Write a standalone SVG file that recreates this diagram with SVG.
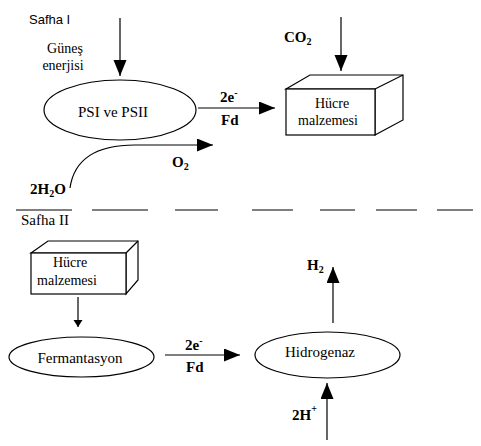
<svg xmlns="http://www.w3.org/2000/svg" width="481" height="446" viewBox="0 0 481 446">
<style>
.s{fill:none;stroke:#000;stroke-width:1.2}
.f{fill:#fff;stroke:#000;stroke-width:1.2}
.t{font-family:'Liberation Serif','Times New Roman','DejaVu Serif',serif;font-size:15px;fill:#000;text-anchor:middle}
.t14{font-family:'Liberation Serif','Times New Roman','DejaVu Serif',serif;font-size:14px;fill:#000;text-anchor:middle}
.b{font-family:'Liberation Serif','Times New Roman','DejaVu Serif',serif;font-size:15px;font-weight:bold;fill:#000}
.sa{font-family:'Liberation Sans',Arial,sans-serif;font-size:13px;fill:#000}
.sub{font-size:10px}
</style>
<defs>
<marker id="ah" markerUnits="userSpaceOnUse" markerWidth="18" markerHeight="14" refX="16" refY="6.5" orient="auto">
<path d="M0,0 L16,6.5 L0,13 z" fill="#000"/>
</marker>
<marker id="as" markerUnits="userSpaceOnUse" markerWidth="8" markerHeight="10" refX="7" refY="4.5" orient="auto">
<path d="M0,0 L7,4.5 L0,9 z" fill="#000"/>
</marker>
</defs>

<g id="labels">
<text class="sa" x="29" y="24">Safha I</text>
<text class="t14" x="65" y="53" font-family="Liberation Serif, serif">Güneş</text>
<text class="t14" x="63" y="70" font-family="Liberation Serif, serif">enerjisi</text>
<text class="b" x="284" y="42">CO<tspan class="sub" dy="3">2</tspan></text>
<text class="b" x="220" y="102">2e<tspan class="sub" dy="-6">-</tspan></text>
<text class="b" x="221" y="125">Fd</text>
<text class="b" x="172" y="167">O<tspan class="sub" dy="3">2</tspan></text>
<text class="b" x="30" y="194">2H<tspan class="sub" dy="3">2</tspan><tspan dy="-3">O</tspan></text>
<text class="t" x="21" y="225" style="text-anchor:start">Safha II</text>
<text class="b" x="185" y="350">2e<tspan class="sub" dy="-6">-</tspan></text>
<text class="b" x="186" y="372">Fd</text>
<text class="b" x="307" y="270">H<tspan class="sub" dy="3">2</tspan></text>
<text class="b" x="292" y="420">2H<tspan class="sub" dy="-8">+</tspan></text>
</g>

<g id="connectors">
<line class="s" x1="120" y1="18" x2="120" y2="76" marker-end="url(#ah)"/>
<line class="s" x1="341" y1="17" x2="341" y2="71" marker-end="url(#ah)"/>
<line class="s" x1="198" y1="108" x2="275" y2="108" marker-end="url(#ah)"/>
<path class="s" d="M70,188 C74,160 95,145 135,145 L213,145" marker-end="url(#ah)"/>
<line class="s" x1="78" y1="297" x2="78" y2="327" marker-end="url(#as)"/>
<line class="s" x1="165" y1="355" x2="240" y2="355" marker-end="url(#ah)"/>
<line class="s" x1="333" y1="323" x2="333" y2="267" marker-end="url(#ah)"/>
<line class="s" x1="327" y1="440" x2="327" y2="383" marker-end="url(#ah)"/>
</g>

<g id="separator">
<line class="s" x1="16" y1="210" x2="72" y2="210"/>
<line class="s" x1="92" y1="210" x2="148" y2="210"/>
<line class="s" x1="175" y1="210" x2="218" y2="210"/>
<line class="s" x1="252" y1="210" x2="293" y2="210"/>
<line class="s" x1="320" y1="210" x2="355" y2="210"/>
<line class="s" x1="376" y1="210" x2="417" y2="210"/>
<line class="s" x1="437" y1="210" x2="473" y2="210"/>
</g>

<g id="psi">
<ellipse class="f" cx="120" cy="110" rx="76" ry="30"/>
<text class="t" x="113" y="117">PSI ve PSII</text>
</g>

<g id="hucre1">
<polygon class="f" points="286,89 310,75 403,75 403,120 375,135 375,89"/>
<line class="s" x1="375" y1="89" x2="403" y2="75"/>
<rect class="f" x="286" y="89" width="89" height="46"/>
<text class="t14" x="332" y="108">Hücre</text>
<text class="t14" x="328" y="125">malzemesi</text>
</g>

<g id="hucre2">
<polygon class="f" points="31,253 48,241 138,241 138,280 126,294 126,253"/>
<line class="s" x1="126" y1="253" x2="138" y2="241"/>
<rect class="f" x="31" y="253" width="95" height="41"/>
<text class="t14" x="70" y="267">Hücre</text>
<text class="t14" x="67" y="285">malzemesi</text>
</g>

<g id="fermantasyon">
<ellipse class="f" cx="81.5" cy="357" rx="72.5" ry="20"/>
<text class="t" x="80" y="363">Fermantasyon</text>
</g>

<g id="hidrogenaz">
<ellipse class="f" cx="327.5" cy="355" rx="72.5" ry="23"/>
<text class="t" x="320" y="357">Hidrogenaz</text>
</g>
</svg>
